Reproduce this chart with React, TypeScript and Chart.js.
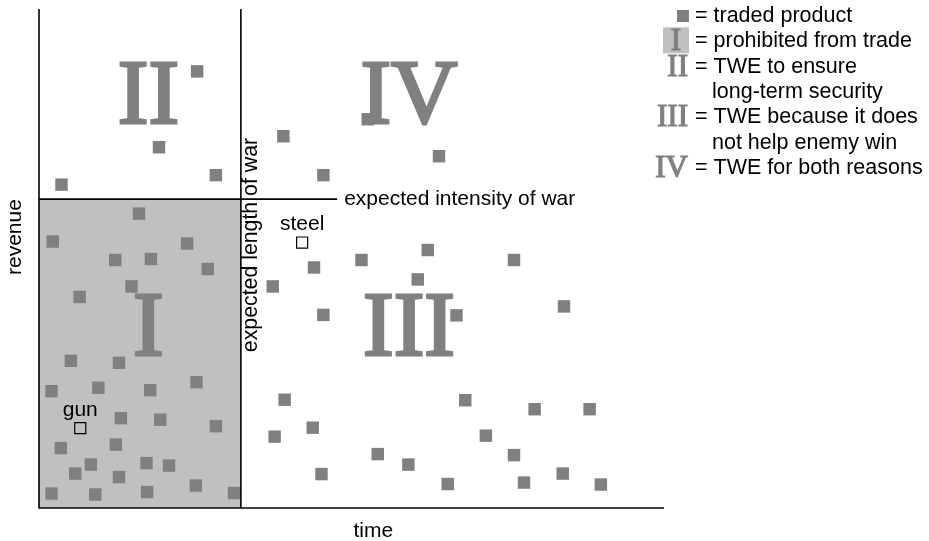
import React, { useEffect, useRef } from "react";
import { Chart, registerables } from "chart.js";

Chart.register(...registerables);

// traded products: time (x) and revenue (y), arbitrary 0-100 units
const tradedTime = [
  25.3, 19.2, 28.3, 3.6,
  39.1, 45.5, 64.0, 52.6,
  16.0, 2.2, 23.7, 12.2, 17.9, 27.0, 14.8, 6.5, 5.1, 12.8, 25.2, 2.0, 9.5, 17.8,
  13.1, 19.4, 28.3, 3.5, 12.3, 8.3, 5.8, 17.2, 20.8, 12.8, 2.0, 9.0, 17.3, 25.1, 31.2,
  44.0, 37.4, 51.6, 62.2, 60.6, 76.0, 45.5, 66.8, 84.0, 39.3, 37.7, 43.8, 45.2, 54.2,
  59.1, 65.4, 68.2, 71.5, 79.3, 88.1, 76.0, 77.6, 83.8, 89.9,
];
const tradedRevenue = [
  87.5, 72.3, 66.7, 64.8,
  74.5, 66.7, 70.5, 77.9,
  59.0, 53.4, 53.0, 49.7, 49.9, 47.9, 44.4, 42.3, 29.5, 29.1, 25.2, 23.4, 24.1, 23.6,
  18.0, 17.7, 16.4, 12.0, 12.7, 8.7, 6.9, 9.0, 8.5, 6.2, 2.9, 2.7, 3.2, 4.5, 3.0,
  48.2, 44.4, 49.7, 51.7, 45.8, 49.7, 38.7, 38.6, 40.4, 21.7, 14.3, 16.1, 6.8, 10.8,
  8.7, 4.8, 21.6, 14.5, 19.8, 19.8, 10.6, 5.1, 6.9, 4.7,
];

// highlighted products
const namedLabels = ["gun", "steel"];
const namedTime = [6.6, 42.1];
const namedRevenue = [16.0, 53.2];

// thresholds
const lengthOfWar = 32.3; // time threshold (vertical line)
const intensityOfWar = 61.9; // revenue threshold (horizontal line)
const intensityLineEnd = 47.7; // time where intensity line stops

// region labels
const regionNames = ["I", "II", "III", "IV"];
const regionTime = [17.5, 17.5, 59.2, 59.2];
const regionRevenue = [30.7, 77.1, 30.7, 77.1];

// legend
const legendSymbols = ["square", "I", "II", "", "III", "", "IV"];
const legendTexts = [
  "= traded product",
  "= prohibited from trade",
  "= TWE to ensure",
  "long-term security",
  "= TWE because it does",
  "not help enemy win",
  "= TWE for both reasons",
];

const SANS = '"Liberation Sans", Arial, Helvetica, sans-serif';
const SERIF = '"Liberation Serif", "Times New Roman", serif';
const MARK = "#808080";
const SHADE = "#c0c0c0";

const overlay = {
  id: "overlay",
  beforeDatasetsDraw(chart: any) {
    const { ctx, scales } = chart;
    const x = scales.x;
    const y = scales.y;
    const x0 = x.getPixelForValue(0);
    const x1 = x.getPixelForValue(lengthOfWar);
    const yT = y.getPixelForValue(intensityOfWar);
    const y0 = y.getPixelForValue(0);
    ctx.save();
    ctx.fillStyle = SHADE;
    ctx.fillRect(x0, yT, x1 - x0, y0 - yT);
    ctx.restore();
  },
  afterDatasetsDraw(chart: any) {
    const { ctx, scales, chartArea } = chart;
    const x = scales.x;
    const y = scales.y;
    const x0 = x.getPixelForValue(0);
    const xMax = x.getPixelForValue(100);
    const x1 = x.getPixelForValue(lengthOfWar);
    const xI = x.getPixelForValue(intensityLineEnd);
    const yT = y.getPixelForValue(intensityOfWar);
    const y0 = y.getPixelForValue(0);
    const yMax = y.getPixelForValue(100);
    ctx.save();

    // lines
    ctx.strokeStyle = "#000";
    ctx.lineWidth = 1.6;
    ctx.beginPath();
    ctx.moveTo(x0, yMax);
    ctx.lineTo(x0, y0);
    ctx.lineTo(xMax, y0);
    ctx.moveTo(x1, yMax);
    ctx.lineTo(x1, y0);
    ctx.moveTo(x0, yT);
    ctx.lineTo(xI, yT);
    ctx.stroke();

    // region numerals
    ctx.fillStyle = MARK;
    ctx.strokeStyle = MARK;
    ctx.lineWidth = 3;
    ctx.lineJoin = "miter";
    ctx.font = `92px ${SERIF}`;
    ctx.textAlign = "center";
    ctx.textBaseline = "alphabetic";
    regionNames.forEach((n, i) => {
      const px = x.getPixelForValue(regionTime[i]);
      const py = y.getPixelForValue(regionRevenue[i]);
      ctx.fillText(n, px, py);
      ctx.strokeText(n, px, py);
    });

    // text labels
    ctx.fillStyle = "#000";
    ctx.font = `21px ${SANS}`;
    ctx.textAlign = "center";
    namedLabels.forEach((n, i) => {
      ctx.fillText(n, x.getPixelForValue(namedTime[i]), y.getPixelForValue(namedRevenue[i]) - 12.5);
    });
    ctx.textAlign = "left";
    ctx.fillText("expected intensity of war", xI + 7, yT + 6);
    ctx.textAlign = "center";
    ctx.fillText("time", x.getPixelForValue(53.5), y0 + 28.5);

    // rotated labels
    ctx.save();
    ctx.translate(x1 + 16, y.getPixelForValue(52.7));
    ctx.rotate(-Math.PI / 2);
    ctx.font = `21.3px ${SANS}`;
    ctx.fillText("expected length of war", 0, 0);
    ctx.restore();
    ctx.save();
    ctx.translate(x0 - 18, y.getPixelForValue(54.3));
    ctx.rotate(-Math.PI / 2);
    ctx.fillText("revenue", 0, 0);
    ctx.restore();

    // legend
    const lx = chartArea.right + 25;
    legendTexts.forEach((t, i) => {
      const by = 22 + i * 25.3;
      const sym = legendSymbols[i];
      const cont = sym === "";
      ctx.fillStyle = "#000";
      ctx.font = `21.5px ${SANS}`;
      ctx.textAlign = "left";
      ctx.fillText(t, cont ? lx + 23 : lx + 6, by);
      if (sym === "square") {
        ctx.fillStyle = MARK;
        ctx.fillRect(lx - 12, by - 12, 12, 12);
      } else if (sym !== "") {
        if (sym === "I") {
          ctx.fillStyle = SHADE;
          ctx.fillRect(lx - 26, by - 20, 26, 26);
        }
        ctx.fillStyle = MARK;
        ctx.strokeStyle = MARK;
        ctx.lineWidth = 1.2;
        ctx.font = `31px ${SERIF}`;
        ctx.textAlign = sym === "I" ? "center" : "right";
        const tx = sym === "I" ? lx - 13 : lx - 1;
        ctx.fillText(sym, tx, by + 3);
        ctx.strokeText(sym, tx, by + 3);
      }
    });

    ctx.restore();
  },
};

export default function App() {
  const ref = useRef<HTMLCanvasElement | null>(null);
  useEffect(() => {
    if (!ref.current) return;
    const chart = new Chart(ref.current, {
      type: "scatter",
      data: {
        datasets: [
          {
            label: "traded product",
            data: tradedTime.map((t, i) => ({ x: t, y: tradedRevenue[i] })),
            pointStyle: "rect",
            pointRadius: 8.8,
            pointHoverRadius: 8.8,
            backgroundColor: MARK,
            borderWidth: 0,
          },
          {
            label: "named product",
            data: namedTime.map((t, i) => ({ x: t, y: namedRevenue[i] })),
            pointStyle: "rect",
            pointRadius: 7.8,
            pointHoverRadius: 7.8,
            backgroundColor: "rgba(0,0,0,0)",
            borderColor: "#000",
            borderWidth: 1.2,
          },
        ],
      },
      options: {
        responsive: false,
        animation: false,
        events: [],
        layout: { padding: { left: 39, right: 265, top: 6, bottom: 33 } },
        scales: {
          x: { type: "linear", min: 0, max: 100, display: false },
          y: { type: "linear", min: 0, max: 100, display: false },
        },
        plugins: {
          legend: { display: false },
          tooltip: { enabled: false },
        },
      },
      plugins: [overlay],
    });
    return () => chart.destroy();
  }, []);
  return (
    <div style={{ position: "fixed", left: 0, top: 0, width: 929, height: 541, background: "#fff" }}>
      <canvas ref={ref} width={929} height={541} style={{ display: "block" }} />
    </div>
  );
}
